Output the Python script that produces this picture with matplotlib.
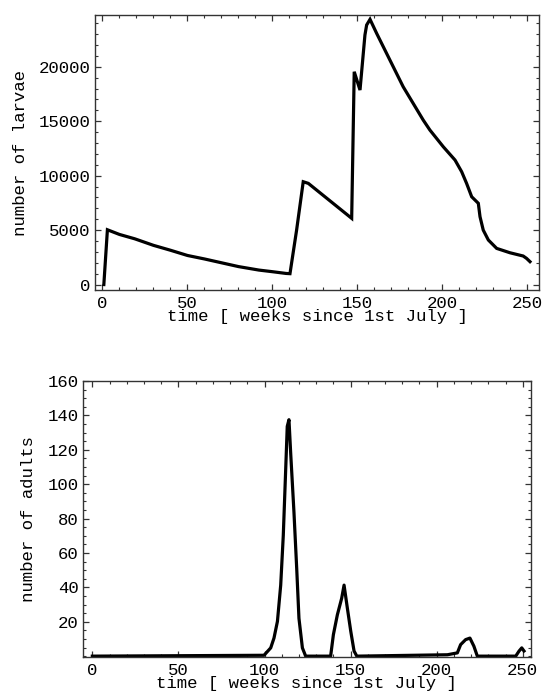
import matplotlib
matplotlib.use("Agg")
from matplotlib import pyplot as plt
from matplotlib.ticker import MultipleLocator

# larvae (top panel)
larvae_weeks = [0.8, 2.9, 10, 19, 30, 40, 50, 60, 70, 80, 92, 100, 108, 110.3,
                114.2, 118.1, 121.1, 146.6, 147.5, 148.1, 151.5, 154.4, 155.4,
                157.4, 161.3, 169.1, 176.9, 188.7, 192.6, 200.5, 207.4, 211.3,
                214.2, 217.2, 221.1, 222.1, 224, 227, 231.9, 239.7, 247.5,
                249.5, 251.5]
larvae = [0, 5030, 4600, 4200, 3600, 3150, 2670, 2350, 2000, 1650, 1330, 1180,
          1020, 1000, 5000, 9440, 9290, 6080, 14190, 19540, 17860, 22910, 23830,
          24350, 23060, 20610, 18160, 15100, 14190, 12650, 11430, 10360, 9290,
          8060, 7460, 6230, 5000, 4090, 3320, 2920, 2620, 2400, 2100]

# adults (bottom panel)
adult_weeks = [0, 99.7, 103.6, 105.5, 107.5, 109.4, 110.9, 112.3, 113.2, 114.2,
               115.2, 117.1, 118.7, 120, 122, 123.9, 138.4, 140, 142.3, 144.8,
               146.2, 148.1, 150.1, 152, 153.6, 206.2, 212, 213.9, 216.8, 219.3,
               221.6, 223.6, 245.9, 247.8, 249.4, 250.7]
adults = [0, 0.5, 4.8, 10.5, 20.2, 41.3, 70.2, 108.6, 133.6, 137.5, 118, 83.7,
          50.9, 22, 4.8, 0, 0, 12.5, 24, 33.6, 41.3, 28, 14.4, 3, 0, 0.8, 1.9,
          6.7, 9.6, 10.5, 5.8, 0, 0, 2.9, 4.8, 3]

font = "Liberation Mono"
fs = 12.5
frame_col = "#333333"

fig = plt.figure(figsize=(5.42, 7.0), dpi=100)
ax1 = fig.add_axes([95 / 542, 1 - 290 / 700, 444 / 542, 275 / 700])
ax2 = fig.add_axes([82.7 / 542, 1 - 657 / 700, 448 / 542, 276 / 700])


def style(ax):
    for s in ax.spines.values():
        s.set_color(frame_col)
        s.set_linewidth(1.0)
    ax.tick_params(which="both", direction="in", top=True, right=True,
                   color=frame_col, labelsize=fs)
    ax.tick_params(axis="x", pad=4)
    ax.tick_params(axis="y", pad=3)
    ax.tick_params(which="major", length=4, width=0.9)
    ax.tick_params(which="minor", length=2, width=0.8)
    for lab in ax.get_xticklabels() + ax.get_yticklabels():
        lab.set_fontfamily(font)


ax1.plot(larvae_weeks, larvae, color="black", lw=2.3, solid_joinstyle="miter")
ax1.set_xlim(-4.4, 256.8)
ax1.set_ylim(-500, 24750)
ax1.xaxis.set_major_locator(MultipleLocator(50))
ax1.xaxis.set_minor_locator(MultipleLocator(10))
ax1.yaxis.set_major_locator(MultipleLocator(5000))
ax1.yaxis.set_minor_locator(MultipleLocator(1000))
style(ax1)
ax1.set_xlabel("time [ weeks since 1st July ]", fontfamily=font, fontsize=fs,
               labelpad=-1)
ax1.set_ylabel("number of larvae", fontfamily=font, fontsize=fs, labelpad=8)

ax2.plot(adult_weeks, adults, color="black", lw=2.3)
ax2.set_xlim(-5.6, 254.6)
ax2.set_ylim(-0.5, 160)
ax2.set_yticks(range(20, 161, 20))
ax2.xaxis.set_major_locator(MultipleLocator(50))
ax2.xaxis.set_minor_locator(MultipleLocator(10))
ax2.yaxis.set_minor_locator(MultipleLocator(5))
style(ax2)
ax2.set_xlabel("time [ weeks since 1st July ]", fontfamily=font, fontsize=fs,
               labelpad=-1)
ax2.set_ylabel("number of adults", fontfamily=font, fontsize=fs, labelpad=8)

fig.savefig("out.png", dpi=100)
